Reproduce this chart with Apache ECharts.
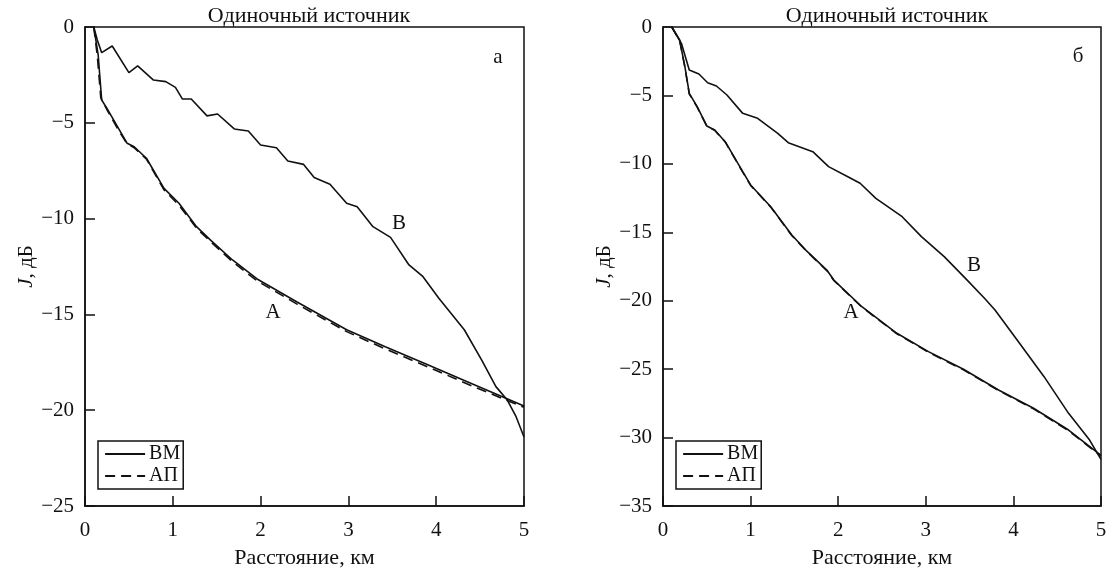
<!DOCTYPE html>
<html>
<head>
<meta charset="utf-8">
<script src="https://cdn.jsdelivr.net/npm/echarts@6/dist/echarts.min.js"></script>
<style>
html, body { margin: 0; padding: 0; background: #fff; }
#chart { width: 1108px; height: 569px; }
</style>
</head>
<body>
<div id="chart"></div>
<script>
// panel a: curve B (upper) and curve A (lower), VM solid, AP dashed
var leftB = [[0.1,0],[0.14,-0.68],[0.19,-1.34],[0.31,-0.99],[0.50,-2.38],[0.60,-2.03],[0.78,-2.77],[0.92,-2.85],[1.03,-3.15],[1.11,-3.76],[1.21,-3.76],[1.39,-4.64],[1.51,-4.54],[1.70,-5.32],[1.86,-5.43],[2.00,-6.16],[2.18,-6.30],[2.31,-6.99],[2.49,-7.17],[2.61,-7.86],[2.79,-8.21],[2.98,-9.20],[3.10,-9.38],[3.28,-10.42],[3.48,-10.98],[3.69,-12.42],[3.85,-13.03],[4.03,-14.16],[4.32,-15.8],[4.52,-17.4],[4.68,-18.77],[4.81,-19.47],[4.91,-20.34],[5.0,-21.4]];
var leftA = [[0.1,0],[0.15,-1.46],[0.19,-3.81],[0.25,-4.25],[0.37,-5.2],[0.48,-6.07],[0.56,-6.25],[0.70,-6.85],[0.90,-8.42],[1.07,-9.2],[1.27,-10.42],[1.43,-11.12],[1.68,-12.16],[1.96,-13.15],[2.41,-14.34],[2.98,-15.8],[3.42,-16.69],[3.91,-17.64],[4.44,-18.68],[5.0,-19.78]];
var leftA_ap = [[0.1,0],[0.14,-1.5],[0.18,-3.7],[0.26,-4.4],[0.37,-5.3],[0.48,-6.1],[0.56,-6.3],[0.70,-6.9],[0.90,-8.5],[1.07,-9.3],[1.27,-10.5],[1.43,-11.2],[1.68,-12.25],[1.96,-13.25],[2.41,-14.45],[2.98,-15.9],[3.42,-16.8],[3.91,-17.75],[4.44,-18.8],[5.0,-19.85]];

// panel б
var rightB = [[0.1,0],[0.21,-1.19],[0.30,-3.14],[0.41,-3.43],[0.51,-4.07],[0.61,-4.31],[0.73,-4.97],[0.91,-6.31],[1.08,-6.67],[1.31,-7.77],[1.43,-8.45],[1.71,-9.11],[1.89,-10.2],[2.11,-10.94],[2.25,-11.42],[2.43,-12.52],[2.73,-13.86],[2.95,-15.32],[3.21,-16.78],[3.45,-18.35],[3.67,-19.82],[3.79,-20.68],[4.07,-23.11],[4.35,-25.55],[4.63,-28.23],[4.87,-30.18],[5.0,-31.6]];
var rightA = [[0.1,0],[0.19,-0.95],[0.25,-2.9],[0.30,-4.85],[0.39,-5.82],[0.50,-7.23],[0.59,-7.53],[0.71,-8.38],[0.91,-10.57],[1.00,-11.54],[1.23,-13.13],[1.47,-15.2],[1.63,-16.3],[1.87,-17.76],[1.95,-18.49],[2.27,-20.44],[2.67,-22.38],[3.03,-23.72],[3.43,-25.01],[3.83,-26.52],[4.23,-27.86],[4.63,-29.45],[5.0,-31.3]];
var rightA_ap = [[0.1,0],[0.19,-1.0],[0.25,-2.95],[0.30,-4.9],[0.39,-5.85],[0.50,-7.25],[0.59,-7.55],[0.71,-8.4],[0.91,-10.6],[1.00,-11.57],[1.23,-13.16],[1.47,-15.23],[1.63,-16.33],[1.87,-17.8],[1.95,-18.52],[2.27,-20.47],[2.67,-22.42],[3.03,-23.76],[3.43,-25.05],[3.83,-26.56],[4.23,-27.9],[4.63,-29.5],[5.0,-31.35]];

var legendNames = ['ВМ', 'АП'];
var titleText = 'Одиночный источник';
var xName = 'Расстояние, км';

var font = 'Liberation Serif';
var black = '#111';

function fmt(v) {
    return String(v).replace('-', '\u2212');
}

function xAxisOf(idx) {
    return {
        type: 'value', gridIndex: idx, min: 0, max: 5, interval: 1,
        name: xName, nameLocation: 'middle', nameGap: 41,
        nameTextStyle: { fontFamily: font, fontSize: 22, color: black },
        axisLine: { onZero: false, lineStyle: { color: black, width: 1.5 } },
        axisTick: { inside: true, length: 10, lineStyle: { color: black, width: 1.5 } },
        axisLabel: { fontFamily: font, fontSize: 21, color: black, margin: 14 },
        splitLine: { show: false }
    };
}

function yAxisOf(idx, min) {
    return {
        type: 'value', gridIndex: idx, min: min, max: 0, interval: 5,
        name: '{i|J}, дБ', nameLocation: 'middle', nameGap: 47,
        nameTextStyle: { fontFamily: font, fontSize: 21, color: black,
            rich: { i: { fontStyle: 'italic', fontFamily: font, fontSize: 21, color: black } } },
        axisLine: { onZero: false, lineStyle: { color: black, width: 1.5 } },
        axisTick: { inside: true, length: 10, lineStyle: { color: black, width: 1.5 } },
        axisLabel: { fontFamily: font, fontSize: 21, color: black, margin: 11, formatter: fmt },
        splitLine: { show: false }
    };
}

function lineSeries(name, idx, data, dashed) {
    return {
        name: name, type: 'line', xAxisIndex: idx, yAxisIndex: idx,
        data: data, symbol: 'none', silent: true, animation: false,
        lineStyle: { color: black, width: 1.6, type: dashed ? [10, 6] : 'solid' },
        itemStyle: { color: black }
    };
}

function legendOf(left) {
    return {
        data: legendNames, orient: 'vertical', left: left, top: 441,
        itemWidth: 40, itemHeight: 14, itemGap: 2,
        padding: [3, 3, 3, 6],
        borderColor: black, borderWidth: 1.5,
        itemStyle: { color: 'transparent', borderColor: 'transparent', borderWidth: 0 },
        lineStyle: { width: 2.2 },
        textStyle: { fontFamily: font, fontSize: 20, color: black, padding: [0, 0, 0, -1] },
        selectedMode: false
    };
}

function note(text, x, y) {
    return {
        type: 'text', x: x, y: y,
        style: { text: text, fontFamily: font, fontSize: 21, fill: black, align: 'center', verticalAlign: 'middle' }
    };
}

var myChart = echarts.init(document.getElementById('chart'));
var option = {
    backgroundColor: '#fff',
    animation: false,
    title: [
        { text: titleText, left: 304, top: 0, textAlign: 'center',
          textStyle: { fontFamily: font, fontSize: 22, fontWeight: 'normal', color: black } },
        { text: titleText, left: 882, top: 0, textAlign: 'center',
          textStyle: { fontFamily: font, fontSize: 22, fontWeight: 'normal', color: black } }
    ],
    grid: [
        { left: 85, top: 27, width: 439, height: 479, show: true, borderColor: black, borderWidth: 1.5,
          containLabel: false, outerBoundsMode: 'none' },
        { left: 663, top: 27, width: 438, height: 479, show: true, borderColor: black, borderWidth: 1.5,
          containLabel: false, outerBoundsMode: 'none' }
    ],
    xAxis: [xAxisOf(0), xAxisOf(1)],
    yAxis: [yAxisOf(0, -25), yAxisOf(1, -35)],
    legend: [legendOf(98), legendOf(676)],
    series: [
        lineSeries('ВМ', 0, leftB, false),
        lineSeries('ВМ', 0, leftA, false),
        lineSeries('АП', 0, leftA_ap, true),
        lineSeries('ВМ', 1, rightB, false),
        lineSeries('ВМ', 1, rightA, false),
        lineSeries('АП', 1, rightA_ap, true)
    ],
    graphic: [
        note('а', 498, 57),
        note('В', 399, 223),
        note('А', 273, 312),
        note('б', 1078, 56),
        note('В', 974, 265),
        note('А', 851, 312)
    ]
};
myChart.setOption(option);
</script>
</body>
</html>
